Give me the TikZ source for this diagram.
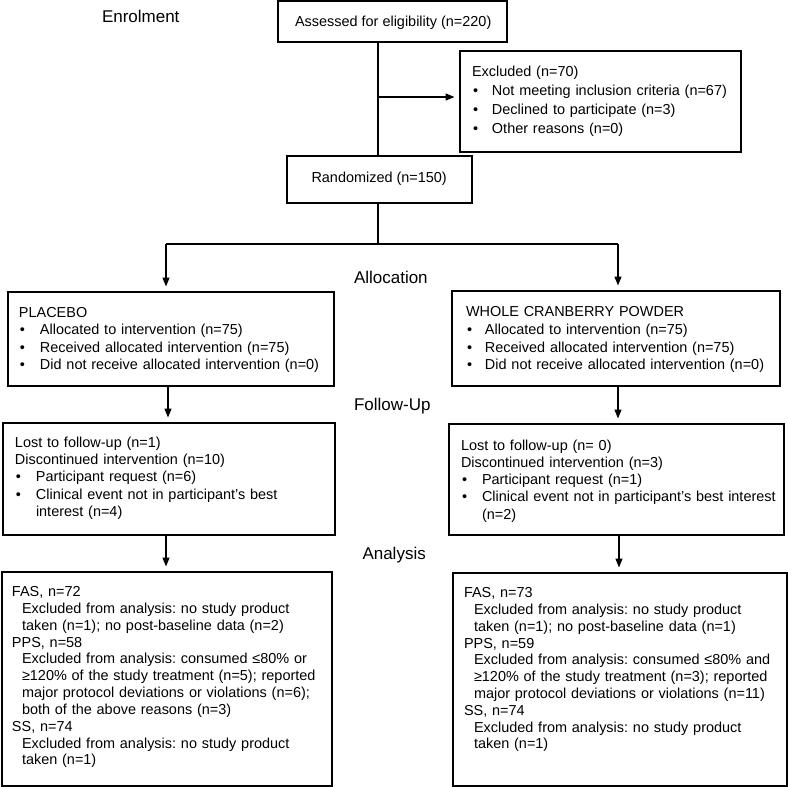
\documentclass[tikz,border=0pt]{standalone}
\usepackage{fontspec}
\setmainfont{Liberation Sans}
\usetikzlibrary{arrows.meta}
\frenchspacing
\newcommand{\bitem}[2][21pt]{\makebox[#1][l]{\hspace{1pt}\textbullet}#2}
\newcommand{\contline}[2][21pt]{\hspace*{#1}#2}
\newcommand{\indline}[1]{\hspace*{10pt}#1}
\begin{document}
\begin{tikzpicture}[x=1pt,y=-1pt,
  font=\fontsize{14.45}{17}\selectfont,
  box/.style={draw, line width=1.3pt, inner sep=0pt, outer sep=0pt, anchor=north west},
  txt/.style={anchor=base west, inner sep=0pt, outer sep=0pt, align=left, text width=#1},
  oneline/.style={anchor=base west, inner sep=0pt, outer sep=0pt},
  stage/.style={anchor=base west, inner sep=0pt, outer sep=0pt, font=\fontsize{17}{20}\selectfont},
  conn/.style={line width=1.3pt},
  arr/.style={conn, -{Triangle[length=9pt,width=7pt]}, shorten >=5.5pt}]
\useasboundingbox (0,0) rectangle (788,787);

% stage labels
\node[stage] (lenrol) at (102,22.5) {Enrolment};
\node[stage] (lalloc) at (354,283) {Allocation};
\node[stage] (lfollow) at (354,410) {Follow-Up};
\node[stage] (lanal) at (362.5,559.3) {Analysis};

% boxes
\node[box, minimum width=229pt, minimum height=41pt] (assess) at (278,1) {};
\node[box, minimum width=281pt, minimum height=101pt] (excl) at (460,51) {};
\node[box, minimum width=185pt, minimum height=47pt] (rand) at (287,156) {};
\node[box, minimum width=326pt, minimum height=94pt] (plac) at (8,292) {};
\node[box, minimum width=328pt, minimum height=95pt] (wcp) at (452,291) {};
\node[box, minimum width=332pt, minimum height=112pt] (fuL) at (3,423) {};
\node[box, minimum width=335pt, minimum height=111pt] (fuR) at (449,424) {};
\node[box, minimum width=330pt, minimum height=214pt] (anL) at (2,572) {};
\node[box, minimum width=334pt, minimum height=213pt] (anR) at (453,573) {};

% texts
\node[oneline] (tassess) at (295,26) {Assessed for eligibility (n=220)};
\node[oneline] (trand) at (311.5,182) {Randomized (n=150)};

\node[txt=265pt, font=\fontsize{14.45}{18.9}\selectfont] (texcl) at (472,76.5) {%
Excluded (n=70)\\
\bitem[20pt]{Not meeting inclusion criteria (n=67)}\\
\bitem[20pt]{Declined to participate (n=3)}\\
\bitem[20pt]{Other reasons (n=0)}};

\node[txt=312pt, font=\fontsize{14.45}{17.6}\selectfont] (tplac) at (19,317) {%
PLACEBO\\
\bitem{Allocated to intervention (n=75)}\\
\bitem{Received allocated intervention (n=75)}\\
\bitem{Did not receive allocated intervention (n=0)}};

\node[txt=312pt, font=\fontsize{14.45}{17.7}\selectfont] (twcp) at (466,316.7) {%
WHOLE CRANBERRY POWDER\\
\bitem[19pt]{Allocated to intervention (n=75)}\\
\bitem[19pt]{Received allocated intervention (n=75)}\\
\bitem[19pt]{Did not receive allocated intervention (n=0)}};

\node[txt=318pt, font=\fontsize{14.45}{17.1}\selectfont] (tfuL) at (15,447.7) {%
Lost to follow-up (n=1)\\
Discontinued intervention (n=10)\\
\bitem{Participant request (n=6)}\\
\bitem{Clinical event not in participant’s best}\\
\contline{interest (n=4)}};

\node[txt=322pt, font=\fontsize{14.45}{17.3}\selectfont] (tfuR) at (461,450) {%
Lost to follow-up (n= 0)\\
Discontinued intervention (n=3)\\
\bitem{Participant request (n=1)}\\
\bitem{Clinical event not in participant’s best interest}\\
\contline{(n=2)}};

\node[txt=318pt, font=\fontsize{14.45}{16.83}\selectfont] (tanL) at (12,596.6) {%
FAS, n=72\\
\indline{Excluded from analysis: no study product}\\
\indline{taken (n=1); no post-baseline data (n=2)}\\
PPS, n=58\\
\indline{Excluded from analysis: consumed ≤80\% or}\\
\indline{≥120\% of the study treatment (n=5); reported}\\
\indline{major protocol deviations or violations (n=6);}\\
\indline{both of the above reasons (n=3)}\\
SS, n=74\\
\indline{Excluded from analysis: no study product}\\
\indline{taken (n=1)}};

\node[txt=320pt, font=\fontsize{14.45}{16.8}\selectfont] (tanR) at (464,597.6) {%
FAS, n=73\\
\indline{Excluded from analysis: no study product}\\
\indline{taken (n=1); no post-baseline data (n=1)}\\
PPS, n=59\\
\indline{Excluded from analysis: consumed ≤80\% and}\\
\indline{≥120\% of the study treatment (n=3); reported}\\
\indline{major protocol deviations or violations (n=11)}\\
SS, n=74\\
\indline{Excluded from analysis: no study product}\\
\indline{taken (n=1)}};

% connectors
\coordinate (trunk) at (378,0);
\coordinate (branch) at (378,97);
\coordinate (split) at (378,244);
\coordinate (lx) at (166,244);
\coordinate (rx) at (618,244);
\draw[conn] (trunk |- assess.south) -- (trunk |- rand.north);
\draw[arr] (branch) -- (branch -| excl.west);
\draw[conn] (trunk |- rand.south) -- (split);
\draw[conn] (lx) -- (rx);
\draw[arr] (lx) -- (lx |- plac.north);
\draw[arr] (rx) -- (rx |- wcp.north);
\draw[arr] ([xshift=-3pt]plac.south) -- ([xshift=-3pt]plac.south |- fuL.north);
\draw[arr] ([xshift=2pt]wcp.south) -- ([xshift=2pt]wcp.south |- fuR.north);
\draw[arr] ([xshift=-3pt]fuL.south) -- ([xshift=-3pt]fuL.south |- anL.north);
\draw[arr] ([xshift=2.5pt]fuR.south) -- ([xshift=2.5pt]fuR.south |- anR.north);
\end{tikzpicture}
\end{document}
